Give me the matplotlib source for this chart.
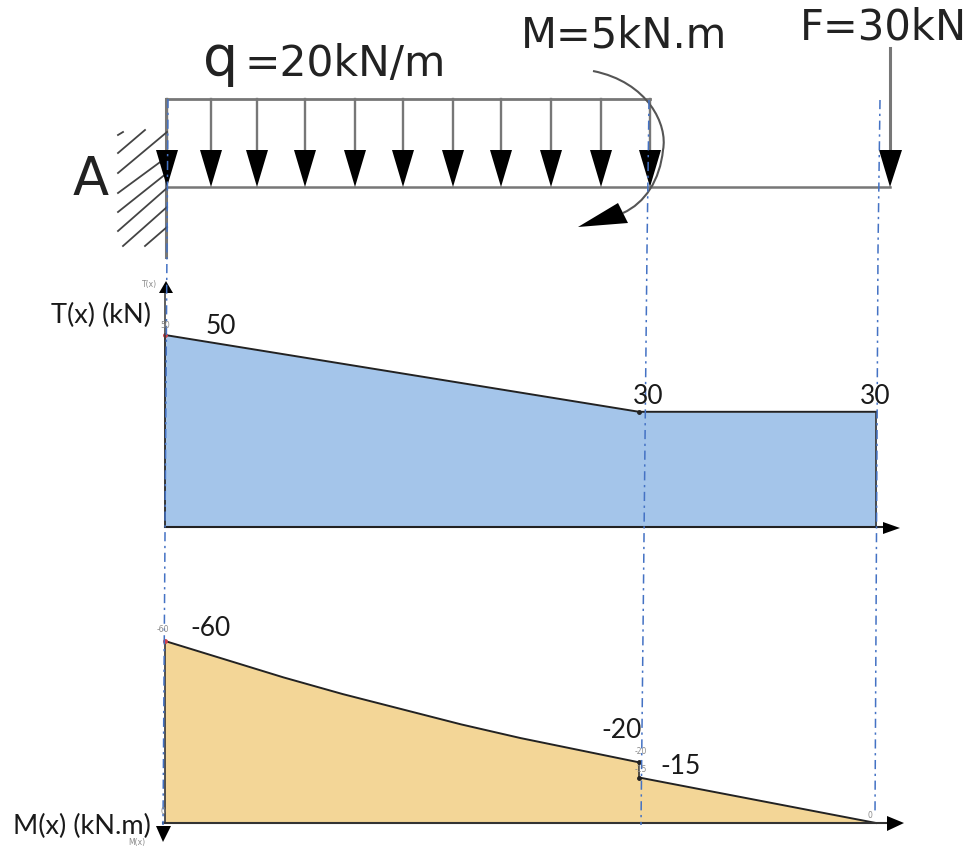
import matplotlib
matplotlib.use("Agg")
import matplotlib.pyplot as plt
from matplotlib.patches import Polygon, PathPatch
from matplotlib.path import Path

W, H = 974, 847

# diagram data
x_T = [0, 1, 1, 1.5]
T_values = [50, 30, 30, 30]
x_M = [0, 0.125, 0.25, 0.375, 0.5, 0.625, 0.75, 0.875, 1, 1, 1.5]
M_values = [-60, -54, -48, -42.5, -37.5, -32.5, -28, -24, -20, -15, 0]

T_labels = ["50", "30", "30"]
M_labels = ["-60", "-20", "-15"]

# arrows of the distributed load, in picture pixels
load_x = [167, 211, 257, 305, 355, 403, 453, 501, 551, 601, 650]

# hatching of the support
hatch_lines = [
    (118, 135, 123, 132), (118, 153, 145, 130), (118, 173, 167, 132),
    (118, 193, 167, 157), (118, 212, 167, 173), (118, 231, 167, 188),
    (123, 246, 167, 207), (145, 246, 167, 227),
]

# dash-dot guide lines (they lean a little in the picture)
guides = [
    ([168, 163], [99, 825]),
    ([649, 647, 641], [100, 250, 825]),
    ([880, 878, 875], [100, 250, 815]),
]

BEAM = "#777777"
BLUE = "#a4c5ea"
ORANGE = "#f3d697"
GUIDE = "#4472c4"
TEXT = "#1a1a1a"
SMALL = "#8a8a8a"


def triangle(ax, tip, base1, base2):
    ax.add_patch(Polygon([tip, base1, base2], closed=True, color="black", lw=0, zorder=6))


def diagram_axes(fig, y_top, y_bottom, ymin, ymax):
    # axes box given in picture pixels, x runs from 0 to 1.5 m
    x0, x1 = 165, 876
    a = fig.add_axes([x0 / W, 1 - y_bottom / H, (x1 - x0) / W, (y_bottom - y_top) / H])
    a.set_xlim(0, 1.5)
    a.set_ylim(ymin, ymax)
    a.axis("off")
    a.patch.set_alpha(0)
    return a


fig = plt.figure(figsize=(W / 100, H / 100), dpi=100, facecolor="white")

# overlay axes in picture pixels, for the beam sketch, guides and labels
ax = fig.add_axes([0, 0, 1, 1])
ax.set_xlim(0, W)
ax.set_ylim(H, 0)
ax.axis("off")
ax.set_zorder(5)

# shear diagram
ax_T = diagram_axes(fig, 335, 527, 0, 50)
ax_T.fill_between(x_T, T_values, 0, color=BLUE, lw=0, zorder=1)
ax_T.plot(x_T[:2] + x_T[3:], T_values[:2] + T_values[3:], color="#222222", lw=1.4, clip_on=False, zorder=3)
ax_T.plot([1.5, 1.5], [0, T_values[-1]], color="#333333", lw=1.2, clip_on=False, zorder=3)
ax_T.plot([0, 0], [0, T_values[0]], color="#333333", lw=1.2, clip_on=False, zorder=3)
ax_T.plot([0], [T_values[0]], "o", color="#d0404a", ms=2.5, clip_on=False, zorder=5)
ax_T.plot([1], [T_values[1]], "o", color="#222222", ms=2.5, clip_on=False, zorder=5)

# bending moment diagram, negative values upwards
ax_M = diagram_axes(fig, 641, 823, 0, -60)
ax_M.fill_between(x_M, M_values, 0, color=ORANGE, lw=0, zorder=1)
ax_M.plot(x_M[:9], M_values[:9], color="#222222", lw=1.4, clip_on=False, zorder=3)
ax_M.plot(x_M[9:], M_values[9:], color="#222222", lw=1.4, clip_on=False, zorder=3)
ax_M.plot([1, 1], [M_values[8], M_values[9]], color="#333333", lw=1.2, zorder=3)
ax_M.plot([0, 0], [0, M_values[0]], color="#333333", lw=1.2, clip_on=False, zorder=3)
ax_M.plot([0], [M_values[0]], "o", color="#d0404a", ms=2.5, clip_on=False, zorder=5)
ax_M.plot([1, 1], [M_values[8], M_values[9]], "o", color="#222222", ms=2.5, zorder=5, clip_on=False)

# value labels
for lab, (px, py) in zip(T_labels, [(221, 327), (648, 396), (875, 397)]):
    ax.text(px, py, lab, fontsize=19, family="Lato", color=TEXT, ha="center", va="center", zorder=8)
for lab, (px, py) in zip(M_labels, [(211, 628), (622, 730), (681, 767)]):
    ax.text(px, py, lab, fontsize=19, family="Lato", color=TEXT, ha="center", va="center", zorder=8)
ax.text(101, 315, "T(x) (kN)", fontsize=19.5, family="Lato", color=TEXT, ha="center", va="center", zorder=8)
ax.text(82, 826, "M(x) (kN.m)", fontsize=19.5, family="Lato", color=TEXT, ha="center", va="center", zorder=8)

# tiny labels of the original software
tiny = [(150, 285, "T(x)"), (165, 325, "50"), (163, 630, "-60"), (641, 752, "-20"),
        (641, 770, "-15"), (870, 815, "0"), (163, 812, "0"), (137, 842, "M(x)")]
for px, py, s in tiny:
    ax.text(px, py, s, fontsize=5.5, color=SMALL, ha="center", va="center", zorder=8)

# beam and load frame
ax.plot([166, 650], [99, 99], color=BEAM, lw=2, zorder=2)
ax.plot([166, 890], [187, 187], color=BEAM, lw=1.8, zorder=2)
ax.plot([166, 166], [99, 257], color=BEAM, lw=2.2, zorder=2)
for lx in load_x:
    ax.plot([lx, lx], [99, 155], color=BEAM, lw=1.7, zorder=2)
    triangle(ax, (lx, 187), (lx - 11, 150), (lx + 11, 150))

# point force
ax.plot([890, 890], [48, 155], color=BEAM, lw=2.2, zorder=2)
triangle(ax, (890, 187), (879, 150), (902, 150))

# support hatching
for x1, y1, x2, y2 in hatch_lines:
    ax.plot([x1, x2], [y1, y2], color="#444444", lw=1.3, zorder=2)

# applied moment
arc = Path(
    [(593, 71), (648, 82), (668, 125), (663, 150), (660, 180), (645, 203), (623, 213)],
    [Path.MOVETO, Path.CURVE4, Path.CURVE4, Path.CURVE4, Path.CURVE4, Path.CURVE4, Path.CURVE4],
)
ax.add_patch(PathPatch(arc, fill=False, edgecolor="#555555", lw=1.5, zorder=4))
triangle(ax, (578, 227), (618, 203), (628, 223))

# guide lines
for gx, gy in guides:
    ax.plot(gx, gy, color=GUIDE, lw=1.1, ls=(0, (6, 3, 1.5, 3)), zorder=7)

# diagram axes
ax.plot([165, 165], [290, 527], color="#333333", lw=1.1, zorder=4)
ax.plot([165, 885], [527, 527], color="#222222", lw=1.5, zorder=4)
triangle(ax, (166, 281), (159, 293), (173, 293))
triangle(ax, (900, 528), (883, 522), (883, 534))
ax.plot([163, 890], [823, 823], color="#333333", lw=1.5, zorder=4)
triangle(ax, (904, 823), (887, 816), (887, 831))
triangle(ax, (163, 842), (156, 826), (171, 826))

# headings
ax.text(91, 195, "A", fontsize=38, color="#222222", ha="center", va="baseline", zorder=8)
ax.text(221, 75, "q", fontsize=40, color="#222222", ha="center", va="baseline", zorder=8)
ax.text(345, 76, "=20kN/m", fontsize=30.5, color="#222222", ha="center", va="baseline", zorder=8)
ax.text(624, 48, "M=5kN.m", fontsize=30, color="#222222", ha="center", va="baseline", zorder=8)
ax.text(883, 39, "F=30kN", fontsize=30, color="#222222", ha="center", va="baseline", zorder=8)

fig.savefig("out.png", dpi=100, facecolor="white")
